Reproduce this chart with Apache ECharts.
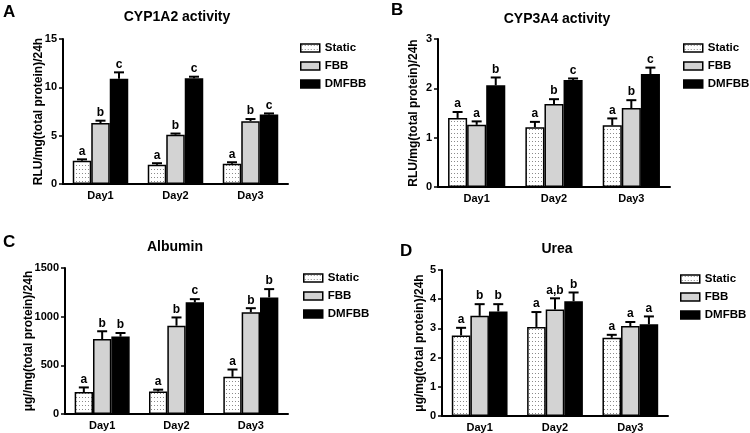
<!DOCTYPE html>
<html>
<head>
<meta charset="UTF-8">
<title>Hepatocyte function</title>
<script src="https://cdn.jsdelivr.net/npm/echarts@6/dist/echarts.min.js"></script>
<style>
  html, body { margin: 0; padding: 0; background: #fff; }
  #chart { width: 750px; height: 433px; }
</style>
</head>
<body>
<div id="chart"></div>
<script>
var days = ['Day1', 'Day2', 'Day3'];
var groups = ['Static', 'FBB', 'DMFBB'];

// each array: one row per group (Static, FBB, DMFBB), one value per day
var cyp1a2Mean = [[2.4, 2.0, 2.1], [6.3, 5.1, 6.5], [10.9, 10.95, 7.2]];
var cyp1a2Err = [[0.15, 0.15, 0.15], [0.25, 0.12, 0.22], [0.65, 0.15, 0.1]];
var cyp1a2Letters = [['a', 'a', 'a'], ['b', 'b', 'b'], ['c', 'c', 'c']];

var cyp3a4Mean = [[1.40, 1.21, 1.25], [1.26, 1.68, 1.60], [2.06, 2.17, 2.29]];
var cyp3a4Err = [[0.12, 0.11, 0.14], [0.07, 0.10, 0.16], [0.16, 0.03, 0.13]];
var cyp3a4Letters = [['a', 'a', 'a'], ['a', 'b', 'b'], ['b', 'c', 'c']];

var albuminMean = [[225, 232, 382], [770, 907, 1045], [795, 1147, 1198]];
var albuminErr = [[48, 18, 75], [80, 85, 42], [37, 33, 85]];
var albuminLetters = [['a', 'a', 'a'], ['b', 'b', 'b'], ['b', 'c', 'b']];

var ureaMean = [[2.76, 3.05, 2.68], [3.43, 3.65, 3.08], [3.58, 3.93, 3.14]];
var ureaErr = [[0.26, 0.51, 0.1], [0.4, 0.38, 0.14], [0.25, 0.3, 0.27]];
var ureaLetters = [['a', 'a', 'a'], ['b', 'a,b', 'a'], ['b', 'b', 'a']];

var FONT = '"Liberation Sans", Arial, sans-serif';
var GAP = 0.26;

// dotted fill for the Static bars
var pat = document.createElement('canvas');
pat.width = 3; pat.height = 4;
var pctx = pat.getContext('2d');
pctx.fillStyle = '#fff'; pctx.fillRect(0, 0, 3, 4);
pctx.fillStyle = '#8a8a8a'; pctx.fillRect(1, 1, 1, 1);

var fills = [{ image: pat, repeat: 'repeat' }, '#d3d3d3', '#000'];

var panels = [
  { tag: 'A', title: 'CYP1A2 activity', yName: 'RLU/mg(total protein)/24h', mean: cyp1a2Mean, err: cyp1a2Err, letters: cyp1a2Letters,
    max: 15, interval: 5, grid: { left: 63, top: 39, width: 225, height: 145 }, titleX: 177, titleY: 10, tagX: 3, tagY: 4, nameGap: 18, legend: { left: 300, top: 42 } },
  { tag: 'B', title: 'CYP3A4 activity', yName: 'RLU/mg(total protein)/24h', mean: cyp3a4Mean, err: cyp3a4Err, letters: cyp3a4Letters,
    max: 3, interval: 1, grid: { left: 438, top: 39, width: 232, height: 148 }, titleX: 557, titleY: 12, tagX: 391, tagY: 2, nameGap: 18, legend: { left: 683, top: 42 } },
  { tag: 'C', title: 'Albumin', yName: 'μg//mg(total protein)/24h', mean: albuminMean, err: albuminErr, letters: albuminLetters,
    max: 1500, interval: 500, grid: { left: 65, top: 268, width: 223, height: 146 }, titleX: 175, titleY: 240, tagX: 3, tagY: 234, nameGap: 30, legend: { left: 303, top: 272 } },
  { tag: 'D', title: 'Urea', yName: 'μg/mg(total protein)/24h', mean: ureaMean, err: ureaErr, letters: ureaLetters,
    max: 5, interval: 1, grid: { left: 442, top: 270, width: 226, height: 146 }, titleX: 557, titleY: 242, tagX: 400, tagY: 243, nameGap: 16, legend: { left: 680, top: 273 } }
];

function errSeries(p, idx) {
  var data = [];
  for (var g = 0; g < 3; g++) {
    for (var d = 0; d < days.length; d++) {
      data.push([d, p.mean[g][d] + p.err[g][d], p.mean[g][d], g]);
    }
  }
  return {
    type: 'custom', name: 'err' + idx, xAxisIndex: idx, yAxisIndex: idx, z: 5, silent: true,
    encode: { x: 0, y: 1 }, data: data,
    renderItem: function (params, api) {
      var d = api.value(0), top = api.value(1), m = api.value(2), g = api.value(3);
      var bw = api.size([1, 0])[0] * (1 - GAP) / 3;
      var base = api.coord([d, m]);
      var cx = base[0] + (g - 1) * bw;
      var y1 = api.coord([d, top])[1];
      return {
        type: 'group', children: [
          { type: 'line', shape: { x1: cx, y1: base[1], x2: cx, y2: y1 }, style: { stroke: '#000', lineWidth: 2 } },
          { type: 'line', shape: { x1: cx - 5, y1: y1, x2: cx + 5, y2: y1 }, style: { stroke: '#000', lineWidth: 2 } },
          { type: 'text', x: cx, y: y1 - 2, style: { text: p.letters[g][d], textAlign: 'center', textVerticalAlign: 'bottom', font: 'bold 12px ' + FONT, fill: '#000' } }
        ]
      };
    }
  };
}

var option = {
  backgroundColor: '#fff',
  animation: false,
  title: [], legend: [], grid: [], xAxis: [], yAxis: [], series: []
};

panels.forEach(function (p, i) {
  option.title.push({ text: p.title, left: p.titleX, top: p.titleY, textAlign: 'center', padding: 0,
    textStyle: { fontFamily: FONT, fontWeight: 'bold', fontSize: 14, color: '#000' } });
  option.title.push({ text: p.tag, left: p.tagX, top: p.tagY, padding: 0,
    textStyle: { fontFamily: FONT, fontWeight: 'bold', fontSize: 17, color: '#000' } });
  option.grid.push(p.grid);
  option.legend.push({
    left: p.legend.left, top: p.legend.top, orient: 'vertical', data: groups, padding: 0,
    itemWidth: 19, itemHeight: 8, itemGap: 6, icon: 'rect', selectedMode: false,
    itemStyle: { borderColor: '#000', borderWidth: 1.5 },
    textStyle: { fontFamily: FONT, fontWeight: 'bold', fontSize: 11.5, color: '#000' }
  });
  option.xAxis.push({
    type: 'category', gridIndex: i, data: days,
    axisLine: { lineStyle: { color: '#000', width: 2 } },
    axisTick: { alignWithLabel: true, length: 4, lineStyle: { color: '#000', width: 1.5 } },
    axisLabel: { fontFamily: FONT, fontWeight: 'bold', fontSize: 11, color: '#000', margin: 6 }
  });
  option.yAxis.push({
    type: 'value', gridIndex: i, min: 0, max: p.max, interval: p.interval,
    name: p.yName, nameLocation: 'middle', nameGap: p.nameGap, nameMoveOverlap: false,
    nameTextStyle: { fontFamily: FONT, fontWeight: 'bold', fontSize: 12, color: '#000' },
    splitLine: { show: false },
    axisLine: { show: true, lineStyle: { color: '#000', width: 2 } },
    axisTick: { show: true, length: 4, lineStyle: { color: '#000', width: 1.5 } },
    axisLabel: { fontFamily: FONT, fontWeight: 'bold', fontSize: 11, color: '#000', margin: 6,
      formatter: function (v) { return String(v); } }
  });
  groups.forEach(function (name, g) {
    option.series.push({
      type: 'bar', name: name, xAxisIndex: i, yAxisIndex: i, data: p.mean[g],
      barGap: '0%', barCategoryGap: (GAP * 100) + '%',
      itemStyle: { color: fills[g], borderColor: '#000', borderWidth: 1.5 }
    });
  });
  option.series.push(errSeries(p, i));
});

var chart = echarts.init(document.getElementById('chart'), null, { renderer: 'canvas' });
chart.setOption(option);
</script>
</body>
</html>
